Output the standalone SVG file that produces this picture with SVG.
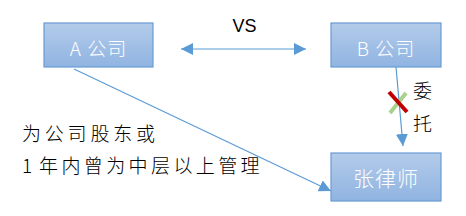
<svg xmlns="http://www.w3.org/2000/svg" width="466" height="216" viewBox="0 0 466 216">
<style>
.box{fill:url(#g);stroke:#6A9BD3;stroke-width:1.2}
.bl{font-family:"Noto Sans CJK SC","Liberation Sans",sans-serif;fill:#fff;text-anchor:middle;font-weight:300}
.tx{font-family:"Noto Sans CJK SC","Liberation Sans",sans-serif;fill:#000;font-weight:300}
.ln{stroke:#5B9BD5;stroke-width:1.2;fill:none}
</style>
<defs>
<linearGradient id="g" x1="0" y1="0" x2="0" y2="1">
<stop offset="0" stop-color="#B3CBEA"/>
<stop offset="1" stop-color="#90B4E1"/>
</linearGradient>
<marker id="ah" viewBox="0 0 12 12" refX="12" refY="6" markerWidth="12" markerHeight="12" markerUnits="userSpaceOnUse" orient="auto-start-reverse">
<path d="M0,0 L12,6 L0,12 Z" fill="#5B9BD5"/>
</marker>
</defs>
<g id="connectors">
<line class="ln" x1="181" y1="49" x2="306" y2="49" marker-start="url(#ah)" marker-end="url(#ah)"/>
<line class="ln" x1="74" y1="69" x2="331" y2="191" marker-end="url(#ah)"/>
<line class="ln" x1="396" y1="67" x2="403" y2="146" marker-end="url(#ah)"/>
<line x1="406" y1="93" x2="390" y2="113" stroke="#A9D18E" stroke-width="4"/>
<line x1="389" y1="92" x2="407" y2="112" stroke="#C00000" stroke-width="4"/>
</g>
<g id="nodeA">
<rect class="box" x="44" y="23" width="109" height="44"/>
<text class="bl" x="98.5" y="56" font-size="19" letter-spacing="1">A 公司</text>
</g>
<g id="nodeB">
<rect class="box" x="331" y="23" width="110" height="44"/>
<text class="bl" x="386" y="56" font-size="19" letter-spacing="1">B 公司</text>
</g>
<g id="nodeLawyer">
<rect class="box" x="331" y="153" width="110" height="48"/>
<text class="bl" x="386" y="186" font-size="21" letter-spacing="1">张律师</text>
</g>
<g id="labels">
<text x="244.5" y="32" font-family="'Liberation Sans',sans-serif" font-size="18" text-anchor="middle" fill="#000">VS</text>
<text class="tx" x="413" y="98" font-size="19">委</text>
<text class="tx" x="413" y="131" font-size="19">托</text>
<text class="tx" x="22" y="141" font-size="19" letter-spacing="3.8">为公司股东或</text>
<text class="tx" x="22" y="173" font-size="19" letter-spacing="3.4">1<tspan x="39">年内曾为中层以上管理</tspan></text>
</g>
</svg>
